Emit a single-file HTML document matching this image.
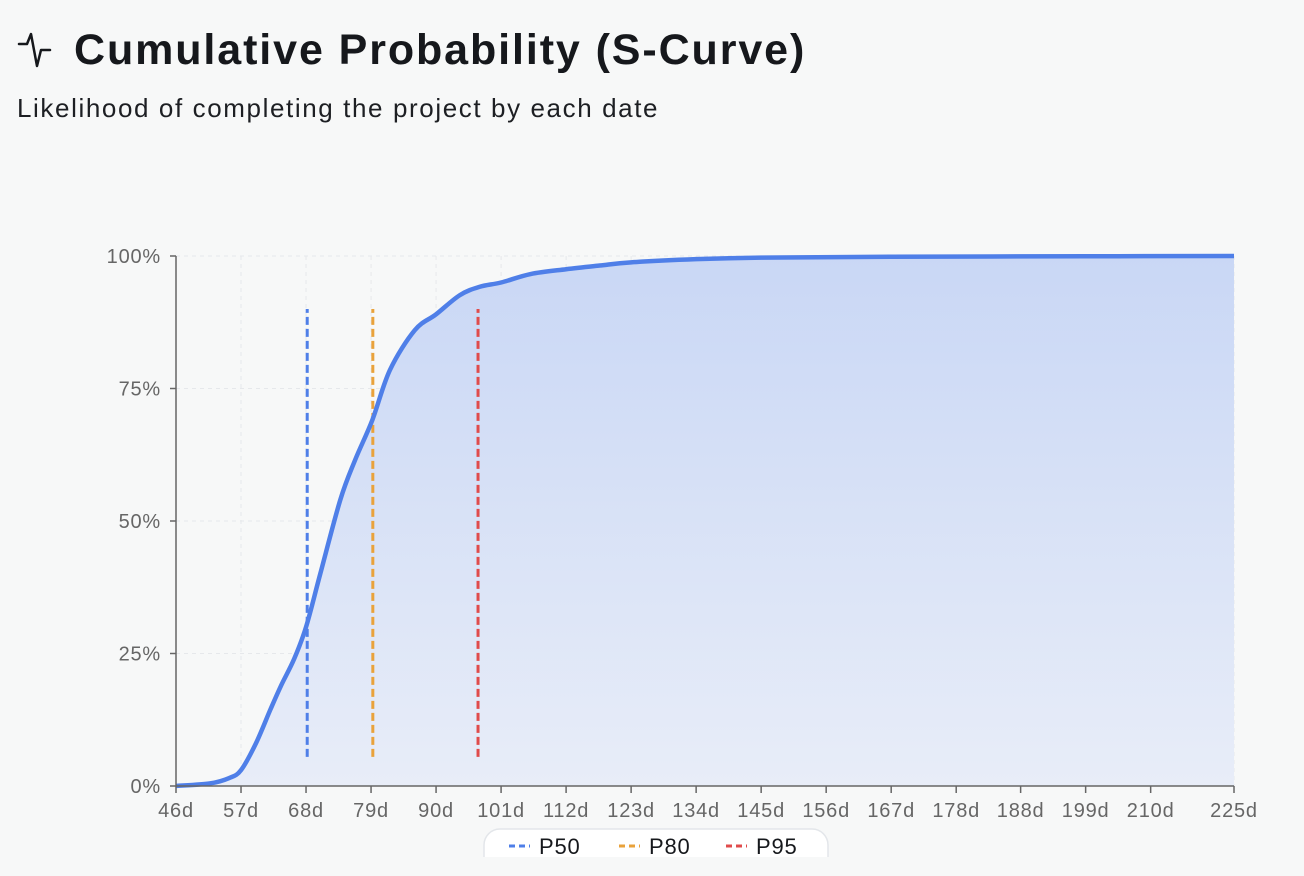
<!DOCTYPE html>
<html><head><meta charset="utf-8"><style>
body{margin:0;width:1304px;height:876px;background:#f7f8f8;font-family:"Liberation Sans",sans-serif;overflow:hidden;position:relative}
#title{position:absolute;left:74px;top:26px;font-size:43px;font-weight:bold;color:#16181c;letter-spacing:1.9px;white-space:nowrap}
#sub{position:absolute;left:17px;top:93px;font-size:26px;color:#1d1f23;letter-spacing:1.6px;white-space:nowrap}
svg{position:absolute;left:0;top:0}
svg text{letter-spacing:0.8px}
</style></head><body>
<svg width="1304" height="876">
<g><polyline points="19,44 27,44 31,34 37,66 41,50 50,50" fill="none" stroke="#16181c" stroke-width="2.5" stroke-linejoin="round" stroke-linecap="round"/></g>
<defs><linearGradient id="fg" x1="0" y1="0" x2="0" y2="1"><stop offset="0" stop-color="#c9d7f5"/><stop offset="1" stop-color="#e8edf8"/></linearGradient>
<clipPath id="lc"><rect x="0" y="0" width="1304" height="857"/></clipPath></defs>
<g id="grid"></g><g id="area"></g><g id="marks"></g><g id="axes"></g>
<g clip-path="url(#lc)">
<rect x="484" y="829" width="344" height="44" rx="16" fill="#fff" stroke="#e3e6ea" stroke-width="1.5"/>
<line x1="509" y1="846" x2="530" y2="846" stroke="#4f7fe8" stroke-width="3" stroke-dasharray="6,4"/>
<text x="539" y="854" font-size="22" fill="#16181c">P50</text>
<line x1="619" y1="846" x2="640" y2="846" stroke="#e9a23b" stroke-width="3" stroke-dasharray="6,4"/>
<text x="649" y="854" font-size="22" fill="#16181c">P80</text>
<line x1="726" y1="846" x2="747" y2="846" stroke="#e04b4b" stroke-width="3" stroke-dasharray="6,4"/>
<text x="756" y="854" font-size="22" fill="#16181c">P95</text>
</g>
</svg>
<div id="title">Cumulative Probability (S-Curve)</div>
<div id="sub">Likelihood of completing the project by each date</div>
<script>
const days=[46,51.8,55,57,59.5,62,63.8,66,68,70.4,73.8,76.3,79.2,82.2,86.4,90,94,97.4,101,106,112,117.7,123,134,145,167,200,225];
const probs=[0,0.5,1.5,3,8,14.5,19,24,30,40,54,61.5,69,78.5,86,89,92.6,94.2,95,96.6,97.5,98.2,98.8,99.4,99.7,99.85,99.95,100];
const tickVals=[46,57,68,79,90,101,112,123,134,145,156,167,178,188.9,199.9,210.9,225];
const tickLabels=["46d","57d","68d","79d","90d","101d","112d","123d","134d","145d","156d","167d","178d","188d","199d","210d","225d"];
const yTicks=[0,25,50,75,100];
const markerNames=["P50","P80","P95"];
const markerDays=[68.2,79.3,97.1];
const markerColors=["#4f7fe8","#e9a23b","#e04b4b"];
const X0=176,X1=1234,Y0=786,Y1=256;
const x=d=>X0+(d-46)/(225-46)*(X1-X0);
const y=p=>Y0-p/100*(Y0-Y1);
const NS="http://www.w3.org/2000/svg";
function mk(tag,attrs,parent){const e=document.createElementNS(NS,tag);for(const k in attrs)e.setAttribute(k,attrs[k]);document.getElementById(parent).appendChild(e);return e;}
yTicks.forEach(t=>{
 const g=mk('line',{x1:X0,x2:X1,y1:y(t),y2:y(t),stroke:'#e6e8eb','stroke-dasharray':'4,4'},'grid');
 
 
 const tk=mk('line',{x1:X0-6,x2:X0,y1:y(t),y2:y(t),stroke:'#666','stroke-width':1.5},'axes');
 
 
 const tx=mk('text',{x:X0-15,y:y(t)+7,'text-anchor':'end','font-size':20,fill:'#666'},'axes');
 tx.textContent=t+'%';
 
 
});
tickVals.forEach((v,i)=>{
 const g=mk('line',{x1:x(v),x2:x(v),y1:Y1,y2:Y0,stroke:'#e6e8eb','stroke-dasharray':'4,4'},'grid');
 
 
 const tk=mk('line',{x1:x(v),x2:x(v),y1:Y0,y2:Y0+7,stroke:'#666','stroke-width':1.5},'axes');
 
 
 const tx=mk('text',{x:x(v),y:Y0+31,'text-anchor':'middle','font-size':20,fill:'#666'},'axes');
 tx.textContent=tickLabels[i];
 
 
});
const ax=mk('path',{d:`M${X0},${Y1}V${Y0}H${X1}`,fill:'none',stroke:'#666','stroke-width':1.5},'axes');


const pts=days.map((d,i)=>[x(d),y(probs[i])]);
let dStr=`M${pts[0][0]},${pts[0][1]}`;
for(let i=0;i<pts.length-1;i++){
 const p0=pts[i-1]||pts[i],p1=pts[i],p2=pts[i+1],p3=pts[i+2]||p2;
 const c1=[p1[0]+(p2[0]-p0[0])/6,p1[1]+(p2[1]-p0[1])/6];
 const c2=[p2[0]-(p3[0]-p1[0])/6,p2[1]-(p3[1]-p1[1])/6];
 dStr+=` C${c1[0]},${Math.max(Y1,c1[1])} ${c2[0]},${Math.max(Y1,c2[1])} ${p2[0]},${p2[1]}`;
}
const ar=mk('path',{d:dStr+` L${X1},${Y0} L${X0},${Y0}Z`,fill:'url(#fg)'},'area');


markerDays.forEach((d,i)=>{
 const l=mk('line',{x1:x(d),x2:x(d),y1:y(5.5),y2:y(90),stroke:markerColors[i],'stroke-width':3,'stroke-dasharray':'8,4'},'marks');
 
 
});
const ln=mk('path',{d:dStr,fill:'none',stroke:'#4f7fe8','stroke-width':4.5,'stroke-linejoin':'round'},'marks');


</script>
</body></html>
